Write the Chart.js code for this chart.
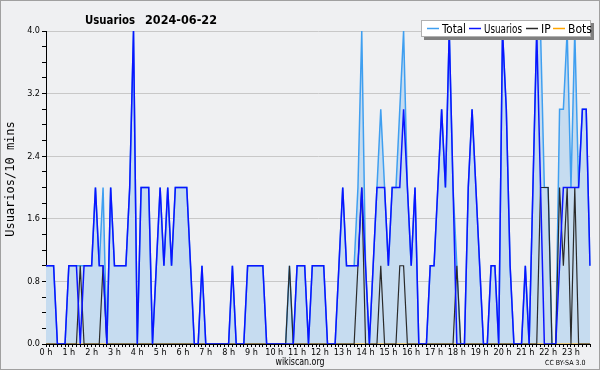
<!DOCTYPE html>
<html>
<head>
<meta charset="utf-8">
<script src="https://cdn.jsdelivr.net/npm/chart.js@4.4.1/dist/chart.umd.min.js"></script>
<style>
    html, body { margin: 0; padding: 0; background: #eff0f2; }
    canvas { display: block; }
</style>
</head>
<body>
<canvas id="chart" width="600" height="370"></canvas>
<script>
// one value per 10 minutes, 00:00 .. 23:50
const hourLabels = ["0 h", "1 h", "2 h", "3 h", "4 h", "5 h", "6 h", "7 h", "8 h", "9 h", "10 h", "11 h",
    "12 h", "13 h", "14 h", "15 h", "16 h", "17 h", "18 h", "19 h", "20 h", "21 h", "22 h", "23 h"];

const userValues = [
    1, 1, 1, 0, 0, 0, 1, 1, 1, 0, 1, 1, 1, 2, 1, 1, 0, 2, 1, 1, 1, 1, 2, 4,
    0, 2, 2, 2, 0, 1, 2, 1, 2, 1, 2, 2, 2, 2, 1, 0, 0, 1, 0, 0, 0, 0, 0, 0,
    0, 1, 0, 0, 0, 1, 1, 1, 1, 1, 0, 0, 0, 0, 0, 0, 0, 0, 1, 1, 1, 0, 1, 1,
    1, 1, 0, 0, 0, 1, 2, 1, 1, 1, 1, 2, 1, 0, 1, 2, 2, 2, 1, 2, 2, 2, 3, 2,
    1, 2, 0, 0, 0, 1, 1, 2, 3, 2, 4, 2, 0, 0, 0, 2, 3, 2, 1, 0, 0, 1, 1, 0,
    4, 3, 1, 0, 0, 0, 1, 0, 2, 4, 2, 0, 0, 0, 0, 1, 2, 2, 2, 2, 2, 3, 3, 1
];

const ipValues = [
    0, 0, 0, 0, 0, 0, 0, 0, 0, 1, 0, 0, 0, 0, 0, 1, 0, 0, 0, 0, 0, 0, 0, 0,
    0, 0, 0, 0, 0, 0, 0, 0, 0, 0, 0, 0, 0, 0, 0, 0, 0, 0, 0, 0, 0, 0, 0, 0,
    0, 0, 0, 0, 0, 0, 0, 0, 0, 0, 0, 0, 0, 0, 0, 0, 1, 0, 0, 0, 0, 0, 0, 0,
    0, 0, 0, 0, 0, 0, 0, 0, 0, 0, 1, 2, 0, 0, 0, 0, 1, 0, 0, 0, 0, 1, 1, 0,
    0, 0, 0, 0, 0, 0, 0, 0, 0, 0, 0, 0, 1, 0, 0, 0, 0, 0, 0, 0, 0, 0, 0, 0,
    0, 0, 0, 0, 0, 0, 0, 0, 0, 0, 2, 2, 2, 0, 0, 2, 1, 2, 0, 2, 0, 0, 0, 0
];

const totalValues = [
    1, 1, 1, 0, 0, 0, 1, 1, 1, 1, 1, 1, 1, 2, 1, 2, 0, 2, 1, 1, 1, 1, 2, 4,
    0, 2, 2, 2, 0, 1, 2, 1, 2, 1, 2, 2, 2, 2, 1, 0, 0, 1, 0, 0, 0, 0, 0, 0,
    0, 1, 0, 0, 0, 1, 1, 1, 1, 1, 0, 0, 0, 0, 0, 0, 1, 0, 1, 1, 1, 0, 1, 1,
    1, 1, 0, 0, 0, 1, 2, 1, 1, 1, 2, 4, 1, 0, 1, 2, 3, 2, 1, 2, 2, 3, 4, 2,
    1, 2, 0, 0, 0, 1, 1, 2, 3, 2, 4, 2, 1, 0, 0, 2, 3, 2, 1, 0, 0, 1, 1, 0,
    4, 3, 1, 0, 0, 0, 1, 0, 2, 4, 4, 2, 2, 0, 0, 3, 3, 4, 2, 4, 2, 3, 3, 1
];

const botValues = [
    0, 0, 0, 0, 0, 0, 0, 0, 0, 0, 0, 0, 0, 0, 0, 0, 0, 0, 0, 0, 0, 0, 0, 0,
    0, 0, 0, 0, 0, 0, 0, 0, 0, 0, 0, 0, 0, 0, 0, 0, 0, 0, 0, 0, 0, 0, 0, 0,
    0, 0, 0, 0, 0, 0, 0, 0, 0, 0, 0, 0, 0, 0, 0, 0, 0, 0, 0, 0, 0, 0, 0, 0,
    0, 0, 0, 0, 0, 0, 0, 0, 0, 0, 0, 0, 0, 0, 0, 0, 0, 0, 0, 0, 0, 0, 0, 0,
    0, 0, 0, 0, 0, 0, 0, 0, 0, 0, 0, 0, 0, 0, 0, 0, 0, 0, 0, 0, 0, 0, 0, 0,
    0, 0, 0, 0, 0, 0, 0, 0, 0, 0, 0, 0, 0, 0, 0, 0, 0, 0, 0, 0, 0, 0, 0, 0
];

const slots = userValues.map((v, i) => `${Math.floor(i / 6)}:${i % 6}0`);

const font = "'DejaVu Sans Condensed', 'DejaVu Sans', sans-serif";

function isMajor(value) {
    const r = value / 0.8;
    return Math.abs(r - Math.round(r)) < 1e-6;
}

const decorations = {
    id: "decorations",
    beforeDraw(chart) {
        const ctx = chart.ctx;
        ctx.save();
        ctx.fillStyle = "#eff0f2";
        ctx.fillRect(0, 0, chart.width, chart.height);
        ctx.restore();
    },
    afterDraw(chart) {
        const ctx = chart.ctx;
        ctx.save();

        ctx.strokeStyle = "#a0a0a0";
        ctx.lineWidth = 1;
        ctx.strokeRect(0.5, 0.5, 599, 369);

        // title
        ctx.fillStyle = "#000";
        ctx.textBaseline = "alphabetic";
        ctx.font = `bold 13px ${font}`;
        ctx.fillText("Usuarios", 85, 24, 50);
        ctx.fillText("2024-06-22", 145, 24, 72);

        // footer
        ctx.font = `10px ${font}`;
        ctx.textAlign = "center";
        ctx.fillText("wikiscan.org", 300, 365, 49);
        ctx.font = `7px ${font}`;
        ctx.textAlign = "left";
        ctx.fillText("CC BY-SA 3.0", 545, 365, 44);

        // legend box
        ctx.fillStyle = "#808080";
        ctx.fillRect(424, 23, 170, 17);
        ctx.fillStyle = "#fff";
        ctx.fillRect(421, 20, 170, 17);
        ctx.strokeStyle = "#b0b0b0";
        ctx.strokeRect(421.5, 20.5, 169, 16);

        const items = [
            { ds: 0, x: 427, w: 38 },
            { ds: 1, x: 469, w: 38 },
            { ds: 2, x: 526, w: 9 },
            { ds: 3, x: 553, w: 19 }
        ];
        ctx.font = `12px ${font}`;
        items.forEach(item => {
            const ds = chart.data.datasets[item.ds];
            ctx.strokeStyle = ds.borderColor;
            ctx.lineWidth = 1.5;
            ctx.beginPath();
            ctx.moveTo(item.x, 28.5);
            ctx.lineTo(item.x + 12, 28.5);
            ctx.stroke();
            ctx.fillStyle = "#000";
            const text = ds.label;
            const tw = Math.min(ctx.measureText(text).width, item.ds === 1 ? 38 : 24);
            ctx.fillText(text, item.x + 15, 32.5, tw);
        });

        // y axis title
        ctx.fillStyle = "#000";
        ctx.font = "12px 'DejaVu Sans Mono', monospace";
        ctx.translate(11, 179);
        ctx.rotate(-Math.PI / 2);
        ctx.textAlign = "center";
        ctx.textBaseline = "middle";
        ctx.fillText("Usuarios/10 mins", 0, 0);

        ctx.restore();
    }
};

new Chart(document.getElementById("chart"), {
    type: "line",
    data: {
        labels: slots,
        datasets: [
            {
                label: "Total",
                data: totalValues,
                borderColor: "#3f9ff0",
                backgroundColor: "#c6dcf0",
                borderWidth: 1.5,
                fill: "origin",
                order: 3
            },
            {
                label: "Usuarios",
                data: userValues,
                borderColor: "#0a14ff",
                borderWidth: 1.5,
                fill: false,
                order: 0
            },
            {
                label: "IP",
                data: ipValues,
                borderColor: "#2a2a2a",
                borderWidth: 1.2,
                fill: false,
                order: 1
            },
            {
                label: "Bots",
                data: botValues,
                borderColor: "#ffa500",
                borderWidth: 1.2,
                fill: false,
                order: 2
            }
        ]
    },
    options: {
        responsive: false,
        animation: false,
        devicePixelRatio: 1,
        layout: { padding: { left: 0, right: 10, top: 31, bottom: 10 } },
        elements: {
            point: { radius: 0 },
            line: { tension: 0 }
        },
        plugins: {
            legend: { display: false },
            title: { display: false },
            tooltip: { enabled: false }
        },
        scales: {
            x: {
                type: "category",
                offset: false,
                grid: {
                    drawOnChartArea: false,
                    tickLength: 3,
                    color: "#000",
                    tickColor: "#000"
                },
                border: { color: "#000", width: 1 },
                ticks: {
                    autoSkip: false,
                    maxRotation: 0,
                    minRotation: 0,
                    padding: 0,
                    color: "#000",
                    font: { family: font, size: 9 },
                    callback(value, index) {
                        return index % 6 === 0 ? hourLabels[index / 6] : "";
                    }
                },
                afterFit(scale) {
                    scale.height = 16;
                }
            },
            y: {
                min: 0,
                max: 4,
                ticks: {
                    stepSize: 0.2,
                    maxTicksLimit: 30,
                    padding: 2,
                    color: "#000",
                    font: { family: font, size: 9 },
                    callback(value) {
                        return isMajor(value) ? value.toFixed(1) : "";
                    }
                },
                grid: {
                    tickLength: 4,
                    tickColor: "#000",
                    color(context) {
                        const v = context.tick ? context.tick.value : 0;
                        return v > 0 && isMajor(v) ? "#c8c8c8" : "rgba(0,0,0,0)";
                    }
                },
                border: { color: "#000", width: 1 },
                afterFit(scale) {
                    scale.width = 46;
                }
            }
        }
    },
    plugins: [decorations]
});
</script>
</body>
</html>
